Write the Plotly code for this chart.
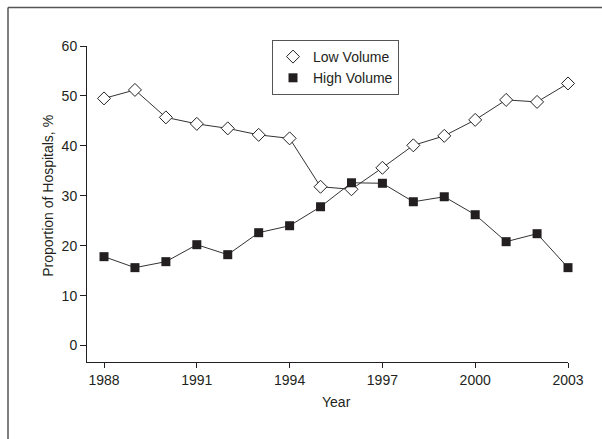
import plotly.graph_objects as go

years = list(range(1988, 2004))
low_volume = [49.5, 51.2, 45.7, 44.4, 43.5, 42.2, 41.5, 31.8, 31.3, 35.6, 40.1, 42.0, 45.2, 49.2, 48.8, 52.5]
high_volume = [17.8, 15.6, 16.8, 20.2, 18.2, 22.6, 24.0, 27.8, 32.6, 32.5, 28.8, 29.8, 26.2, 20.8, 22.4, 15.6]
x_ticks = [1988, 1991, 1994, 1997, 2000, 2003]
y_ticks = [0, 10, 20, 30, 40, 50, 60]

FONT = "Liberation Sans, Arial, sans-serif"
TXT = "#231f20"
LINE = "#333333"
FS = 14

low_marker = dict(symbol="diamond", size=10, color="white", line=dict(color="#222222", width=1))
high_marker = dict(symbol="square", size=9, color="#231f20", line=dict(color="#231f20", width=0))

fig = go.Figure()
fig.add_trace(go.Scatter(x=years, y=low_volume, name="Low Volume", mode="lines+markers",
                         line=dict(color=LINE, width=1), marker=low_marker, showlegend=False,
                         cliponaxis=False))
fig.add_trace(go.Scatter(x=years, y=high_volume, name="High Volume", mode="lines+markers",
                         line=dict(color=LINE, width=1), marker=high_marker, showlegend=False,
                         cliponaxis=False))
# legend entries (markers only, as in the reference)
fig.add_trace(go.Scatter(x=[None], y=[None], name="Low Volume", mode="markers", marker=low_marker))
fig.add_trace(go.Scatter(x=[None], y=[None], name="High Volume", mode="markers", marker=high_marker))

L, R, T, B = 87, 34, 46, 77
W, H = 602, 439
pw = W - L - R
ph = H - T - B

fig.update_layout(
    width=W, height=H,
    margin=dict(l=L, r=R, t=T, b=B, pad=0),
    paper_bgcolor="white", plot_bgcolor="white",
    font=dict(family=FONT, size=FS, color=TXT),
    showlegend=True,
    hovermode=False,
    legend=dict(
        x=(272 - L) / pw, y=(H - B - 40) / ph, xanchor="left", yanchor="top",
        bordercolor="#555555", borderwidth=1, bgcolor="white",
        font=dict(family=FONT, size=FS, color=TXT),
        tracegroupgap=0, itemwidth=30,
    ),
    xaxis=dict(
        range=[1987.45, 2003], tickvals=x_ticks, ticktext=[str(v) for v in x_ticks],
        showgrid=False, zeroline=False, showline=True, linecolor=TXT, linewidth=1,
        ticks="outside", ticklen=5, tickwidth=1, tickcolor=TXT,
        tickfont=dict(family=FONT, size=FS, color=TXT),
    ),
    yaxis=dict(
        range=[-3.3, 60], tickvals=y_ticks, ticktext=[str(v) for v in y_ticks],
        showgrid=False, zeroline=False, showline=True, linecolor=TXT, linewidth=1,
        ticks="outside", ticklen=6, tickwidth=1, tickcolor=TXT,
        tickfont=dict(family=FONT, size=FS, color=TXT),
    ),
)

# axis titles (centred on the data span, as in the reference)
fig.add_annotation(text="Year", xref="x", yref="paper", x=(years[0] + years[-1]) / 2,
                   y=(H - B - 401.5) / ph, showarrow=False, xanchor="center", yanchor="middle",
                   font=dict(family=FONT, size=FS, color=TXT))
fig.add_annotation(text="Proportion of Hospitals, %", xref="paper", yref="y",
                   x=(48 - L) / pw, y=(y_ticks[0] + y_ticks[-1]) / 2, textangle=-90,
                   showarrow=False, xanchor="center", yanchor="middle",
                   font=dict(family=FONT, size=FS, color=TXT))

# outer frame (cropped box: left and top edges visible)
x_left = (8 - L) / pw
y_top = (H - B - 7.5) / ph
fig.add_shape(type="line", xref="paper", yref="paper", x0=x_left, x1=(W + 5 - L) / pw,
              y0=y_top, y1=y_top, line=dict(color="#555555", width=1.5), layer="above")
fig.add_shape(type="line", xref="paper", yref="paper", x0=x_left, x1=x_left,
              y0=y_top, y1=(-B - 5) / ph, line=dict(color="#555555", width=1.5), layer="above")

fig.write_html("out.html", config={"displayModeBar": False, "staticPlot": True})

# remove default page margin so the figure sits at the window origin
with open("out.html", "r", encoding="utf-8") as f:
    html = f.read()
html = html.replace("<head>", "<head><style>html,body{margin:0;padding:0;overflow:hidden;}</style>", 1)
with open("out.html", "w", encoding="utf-8") as f:
    f.write(html)
